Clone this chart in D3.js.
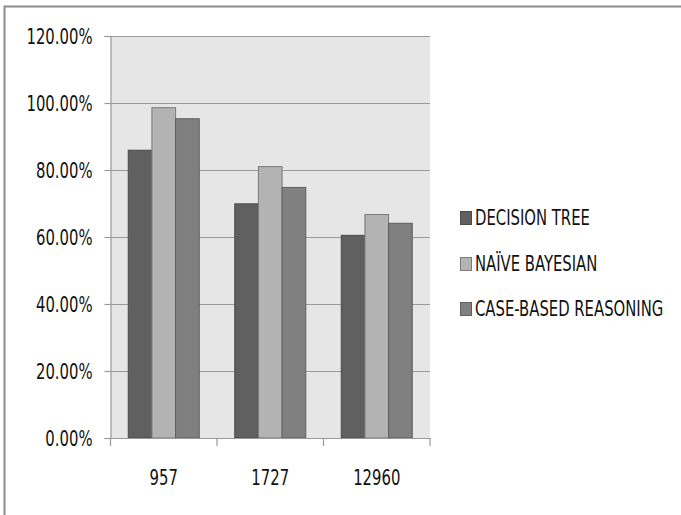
<!DOCTYPE html>
<html>
<head>
<meta charset="utf-8">
<script src="https://cdn.jsdelivr.net/npm/d3@7"></script>
<style>
  html, body { margin: 0; padding: 0; background: #fff; }
  svg text { font-family: "DejaVu Sans Condensed", "Liberation Sans Narrow", sans-serif; fill: #111; }
</style>
</head>
<body>
<svg id="chart" width="681" height="515"></svg>
<script>
// Accuracy of three classifiers across dataset sizes
const categories = ["957", "1727", "12960"];
const seriesNames = ["DECISION TREE", "NAÏVE BAYESIAN", "CASE-BASED REASONING"];
const decisionTree = [0.859, 0.699, 0.605];
const naiveBayesian = [0.986, 0.810, 0.667];
const caseBased = [0.953, 0.748, 0.641];
const yTicks = [0, 0.2, 0.4, 0.6, 0.8, 1.0, 1.2];

const seriesValues = [decisionTree, naiveBayesian, caseBased];
const fills = ["#606060", "#b3b3b3", "#808080"];
const strokes = ["#4a4a4a", "#7a7a7a", "#5e5e5e"];

const svg = d3.select("#chart");
const plot = { left: 110.5, right: 430, top: 36, bottom: 438 };
const fontSize = 16.5;
const textScaleY = 1.3;

// outer chart frame
svg.append("path")
  .attr("d", "M4.5,515 L4.5,6.5 L681,6.5")
  .attr("fill", "none").attr("stroke", "#8c8c8c").attr("stroke-width", 2);

const x0 = d3.scaleBand().domain(categories).range([plot.left, plot.right]).paddingInner(0).paddingOuter(0);
const x1 = d3.scaleBand().domain(d3.range(seriesNames.length))
  .range([0, x0.bandwidth()]).paddingInner(0).paddingOuter(0.75);
const y = d3.scaleLinear().domain([0, 1.2]).range([plot.bottom, plot.top]);

// plot background
svg.append("rect")
  .attr("x", plot.left).attr("y", plot.top)
  .attr("width", plot.right - plot.left).attr("height", plot.bottom - plot.top)
  .attr("fill", "#e6e6e6");

// horizontal gridlines
svg.append("g").selectAll("line").data(yTicks.filter(d => d > 0)).join("line")
  .attr("x1", plot.left).attr("x2", plot.right)
  .attr("y1", d => Math.round(y(d)) + 0.5).attr("y2", d => Math.round(y(d)) + 0.5)
  .attr("stroke", "#9a9a9a").attr("stroke-width", 1.2);

// bars
const groups = svg.append("g").selectAll("g").data(categories).join("g")
  .attr("transform", d => `translate(${x0(d)},0)`);
groups.selectAll("rect")
  .data((c, i) => seriesValues.map((vals, s) => ({ s, v: vals[i] })))
  .join("rect")
  .attr("x", d => x1(d.s))
  .attr("y", d => y(d.v))
  .attr("width", x1.bandwidth())
  .attr("height", d => y(0) - y(d.v))
  .attr("fill", d => fills[d.s])
  .attr("stroke", d => strokes[d.s])
  .attr("stroke-width", 1);

// y axis
const yAxis = svg.append("g")
  .attr("transform", `translate(${plot.left},0)`)
  .call(d3.axisLeft(y).tickValues(yTicks).tickSize(6).tickPadding(12)
    .tickFormat(d => (d * 100).toFixed(2) + "%"));
yAxis.select(".domain").attr("stroke", "#9a9a9a").attr("stroke-width", 1.2);
yAxis.selectAll(".tick line").attr("stroke", "#9a9a9a").attr("stroke-width", 1.2);
yAxis.selectAll(".tick text")
  .attr("font-size", fontSize).attr("fill", "#111")
  .attr("dy", null).attr("dominant-baseline", "central")
  .attr("transform", `scale(1,${textScaleY})`)
  .attr("y", 0);

// x axis
const xAxis = svg.append("g")
  .attr("transform", `translate(0,${plot.bottom})`)
  .call(d3.axisBottom(x0).tickSize(0).tickPadding(0));
xAxis.select(".domain").attr("stroke", "#9a9a9a").attr("stroke-width", 1.2);
xAxis.selectAll(".tick text")
  .attr("font-size", fontSize).attr("fill", "#111")
  .attr("dy", null).attr("y", 40 / textScaleY).attr("dominant-baseline", "central")
  .attr("transform", `scale(1,${textScaleY})`);
// category separator ticks
svg.append("g").selectAll("line")
  .data(d3.range(categories.length + 1)).join("line")
  .attr("x1", i => plot.left + i * x0.step()).attr("x2", i => plot.left + i * x0.step())
  .attr("y1", plot.bottom).attr("y2", plot.bottom + 8)
  .attr("stroke", "#9a9a9a").attr("stroke-width", 1.2);

// legend
const legend = svg.append("g").attr("transform", "translate(460,0)");
const rowY = [218, 264, 309];
seriesNames.forEach((name, i) => {
  legend.append("rect")
    .attr("x", 0.5).attr("y", rowY[i] - 6.5).attr("width", 11).attr("height", 13)
    .attr("fill", fills[i]).attr("stroke", strokes[i]);
  legend.append("text")
    .attr("x", 15).attr("y", rowY[i] / textScaleY)
    .attr("dominant-baseline", "central")
    .attr("transform", `scale(1,${textScaleY})`)
    .attr("font-size", fontSize).attr("fill", "#111")
    .text(name);
});
</script>
</body>
</html>
